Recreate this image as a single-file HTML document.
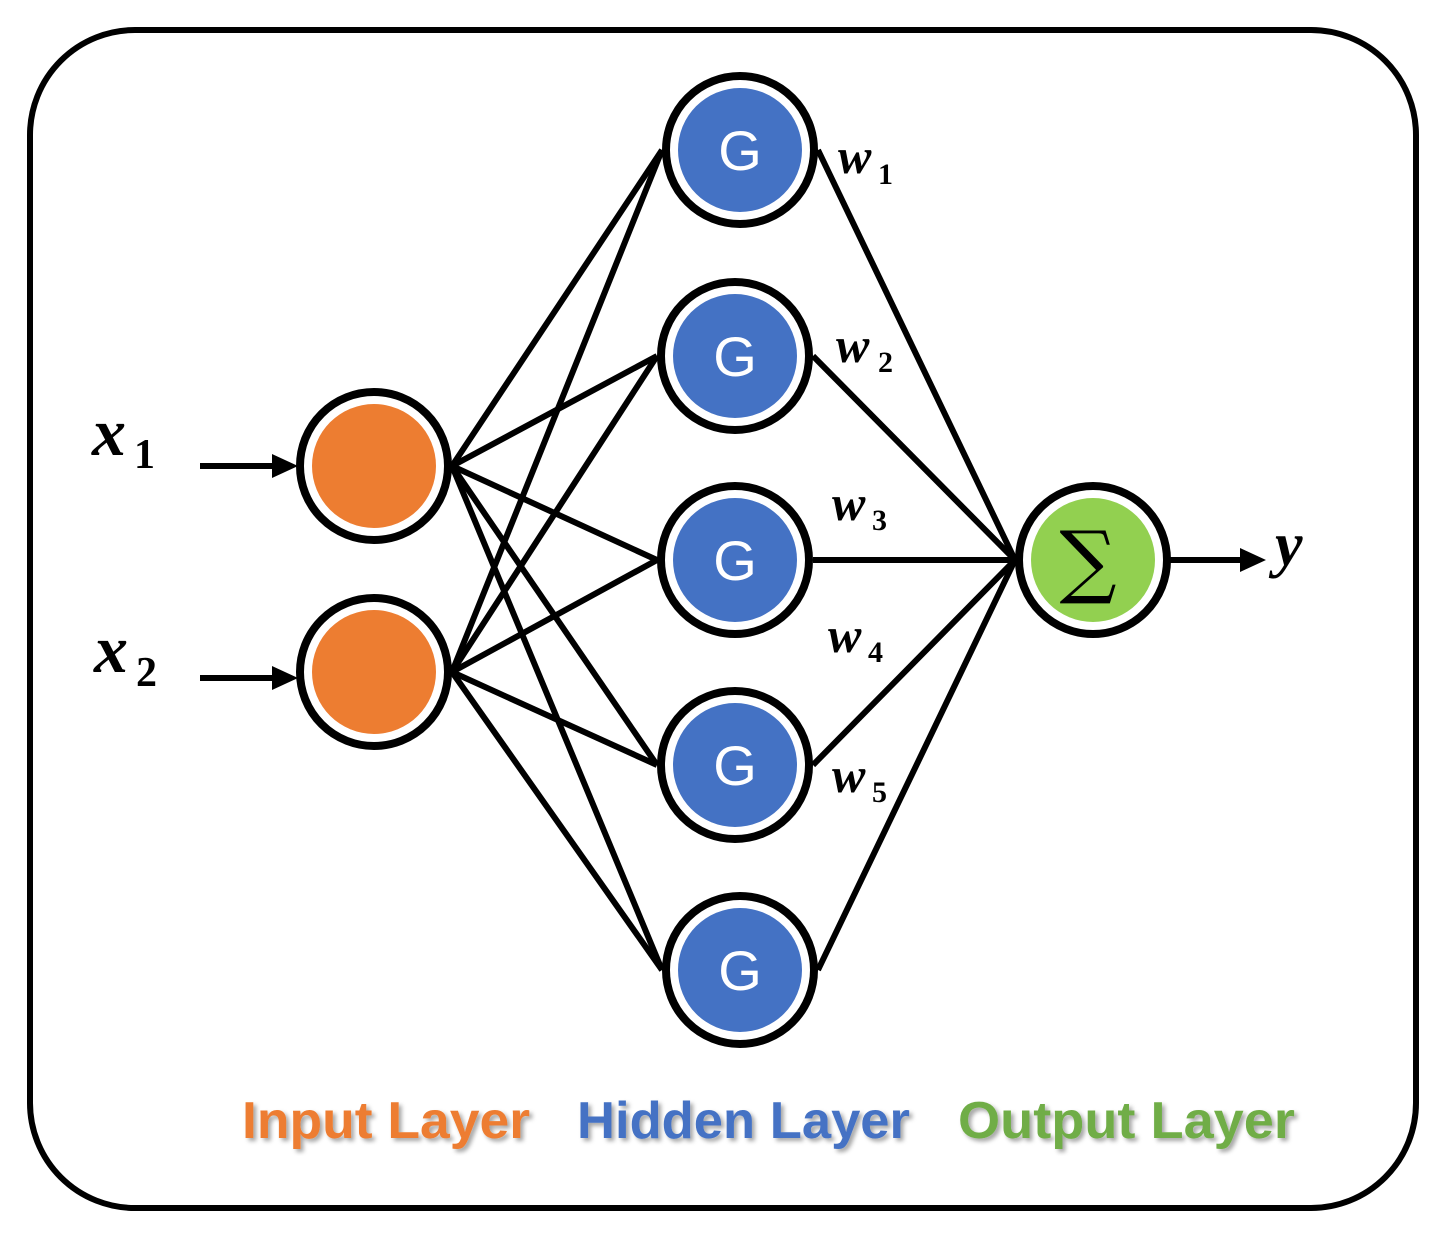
<!DOCTYPE html>
<html><head><meta charset="utf-8"><style>body{margin:0;background:#fff}svg{display:block}</style></head><body>
<svg width="1446" height="1238" viewBox="0 0 1446 1238" xmlns="http://www.w3.org/2000/svg">
<defs><filter id="sh"><feDropShadow dx="3" dy="3" stdDeviation="2" flood-color="#000" flood-opacity="0.35"/></filter></defs>
<rect x="30" y="30" width="1386" height="1178" rx="105" fill="none" stroke="#000" stroke-width="6"/>
<g stroke="#000" stroke-width="6" fill="none">
<line x1="452" y1="466" x2="662" y2="150"/><line x1="452" y1="466" x2="657" y2="356"/><line x1="452" y1="466" x2="657" y2="560"/><line x1="452" y1="466" x2="657" y2="765"/><line x1="452" y1="466" x2="662" y2="970"/>
<line x1="452" y1="672" x2="662" y2="150"/><line x1="452" y1="672" x2="657" y2="356"/><line x1="452" y1="672" x2="657" y2="560"/><line x1="452" y1="672" x2="657" y2="765"/><line x1="452" y1="672" x2="662" y2="970"/>
<line x1="818" y1="150" x2="1015" y2="560"/><line x1="813" y1="356" x2="1015" y2="560"/><line x1="813" y1="560" x2="1015" y2="560"/><line x1="813" y1="765" x2="1015" y2="560"/><line x1="818" y1="970" x2="1015" y2="560"/>
<line x1="200" y1="466" x2="275" y2="466"/><line x1="200" y1="678" x2="275" y2="678"/><line x1="1170" y1="560" x2="1245" y2="560"/>
</g>
<g fill="#000"><polygon points="272,454 298,466 272,478"/><polygon points="272,666 298,678 272,690"/><polygon points="1240,548 1266,560 1240,572"/></g>
<g stroke="#000" stroke-width="8" fill="#fff">
<circle cx="374" cy="466" r="74"/><circle cx="374" cy="672" r="74"/>
<circle cx="740" cy="150" r="74"/><circle cx="735" cy="356" r="74"/><circle cx="735" cy="560" r="74"/><circle cx="735" cy="765" r="74"/><circle cx="740" cy="970" r="74"/>
<circle cx="1093" cy="560" r="74"/>
</g>
<g fill="#ED7D31"><circle cx="374" cy="466" r="62"/><circle cx="374" cy="672" r="62"/></g>
<g fill="#4472C4"><circle cx="740" cy="150" r="62"/><circle cx="735" cy="356" r="62"/><circle cx="735" cy="560" r="62"/><circle cx="735" cy="765" r="62"/><circle cx="740" cy="970" r="62"/></g>
<circle cx="1093" cy="560" r="62" fill="#92D050"/>
<g fill="#fff" font-family="Liberation Sans, sans-serif" font-size="56" text-anchor="middle">
<text x="740" y="170">G</text><text x="735" y="376">G</text><text x="735" y="580">G</text><text x="735" y="785">G</text><text x="740" y="990">G</text></g>
<text x="1088" y="588" font-family="DejaVu Serif, serif" font-size="80" text-anchor="middle" fill="#000">∑</text>
<g font-family="Liberation Serif, serif" font-style="italic" font-weight="bold" fill="#000">
<text x="92" y="455" font-size="68">x</text><text x="134" y="468" font-size="42" font-style="normal">1</text>
<text x="94" y="672" font-size="68">x</text><text x="136" y="686" font-size="42" font-style="normal">2</text>
<text x="1275" y="565" font-size="62">y</text>
<g font-size="50"><text x="838" y="173">w</text><text x="836" y="362">w</text><text x="832" y="520">w</text><text x="828" y="652">w</text><text x="832" y="792">w</text></g>
<g font-size="30" font-style="normal"><text x="878" y="184">1</text><text x="878" y="372">2</text><text x="872" y="530">3</text><text x="868" y="662">4</text><text x="872" y="802">5</text></g>
</g>
<g font-family="Liberation Sans, sans-serif" font-weight="bold" font-size="52" filter="url(#sh)">
<text x="242" y="1138" fill="#ED7D31" textLength="288" lengthAdjust="spacingAndGlyphs">Input Layer</text>
<text x="577" y="1138" fill="#4472C4" textLength="333" lengthAdjust="spacingAndGlyphs">Hidden Layer</text>
<text x="958" y="1138" fill="#70AD47" textLength="337" lengthAdjust="spacingAndGlyphs">Output Layer</text>
</g>
</svg>
</body></html>
